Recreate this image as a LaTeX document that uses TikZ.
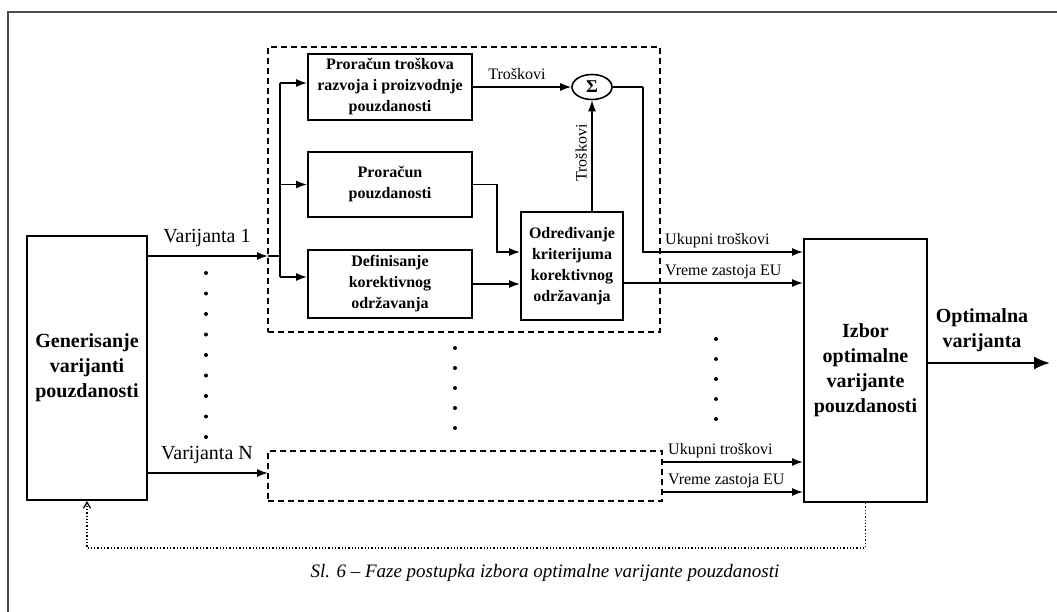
\documentclass[tikz,border=0pt]{standalone}
\usepackage{fontspec}
\setmainfont{Liberation Serif}
\usetikzlibrary{arrows.meta,shapes.geometric}
\begin{document}
\begin{tikzpicture}[x=1pt,y=-1pt,
  box/.style={draw,line width=2pt,inner sep=0pt,align=center},
  bigtxt/.style={font=\fontsize{20}{25}\selectfont\bfseries},
  smalltxt/.style={font=\fontsize{16}{21}\selectfont\bfseries},
  lbl/.style={font=\fontsize{16}{18}\selectfont,inner sep=0pt},
  vlbl/.style={font=\fontsize{20}{22}\selectfont,inner sep=0pt},
  conn/.style={line width=1.4pt},
  arr/.style={line width=1.4pt,-{Latex[length=11pt,width=8pt]}},
  grp/.style={draw,dashed,line width=1.5pt,dash pattern=on 6pt off 4pt,inner sep=0pt},
  fdot/.style={circle,fill,inner sep=0pt,minimum size=4pt},
]
\useasboundingbox (0,0) rectangle (1057,612);
% outer frame
\draw[line width=2pt,black!70] (8,612) -- (8,12) -- (1057,12);

% main boxes
\node[box,bigtxt,minimum width=120pt,minimum height=264pt] (gen) at (87,368) {Generisanje\\varijanti\\pouzdanosti};
\node[box,bigtxt,minimum width=123pt,minimum height=263pt] (izb) at (865.5,370.5) {Izbor\\optimalne\\varijante\\pouzdanosti};

% group boxes
\node[grp,minimum width=392pt,minimum height=285pt] (grp1) at (464,189.5) {};
\node[grp,minimum width=394pt,minimum height=50pt] (grpN) at (465,476) {};

% inner boxes
\node[box,smalltxt,minimum width=164pt,minimum height=66pt] (b1) at (390,87) {Proračun troškova\\razvoja i proizvodnje\\pouzdanosti};
\node[box,smalltxt,minimum width=164pt,minimum height=65pt] (b2) at (390,184.5) {Proračun\\pouzdanosti};
\node[box,smalltxt,minimum width=164pt,minimum height=68pt] (b3) at (390,284) {Definisanje\\korektivnog\\održavanja};
\node[box,smalltxt,minimum width=102pt,minimum height=108pt] (b4) at (572,266) {Određivanje\\kriterijuma\\korektivnog\\održavanja};
\node[draw,ellipse,line width=1.6pt,minimum width=40pt,minimum height=25pt,inner sep=0pt,font=\fontsize{18}{18}\selectfont\bfseries] (sig) at (592,87) {Σ};

% coordinates
\coordinate (v1) at (268,256);
\coordinate (br) at (280,256);
\coordinate (vN) at (268,473);
\coordinate (sk) at (643,87);
\coordinate (uk) at (643,252);
\coordinate (n1) at (662,462);
\coordinate (n2) at (662,492);
\coordinate (fbR) at (865.5,548);
\coordinate (fbL) at (87,548);
\coordinate (opt) at (1050,363);

% Varijanta 1 and branch
\draw[arr] (gen.east |- v1) -- (v1);
\node[vlbl,anchor=south] (lv1) at (207,247) {Varijanta 1};
\draw[conn] (v1) -- (br);
\draw[conn] (280,83) -- (280,277);
\draw[arr] (280,83) -- (b1.west |- 0,83);
\draw[arr] (280,184.5) -- (b2.west);
\draw[arr] (280,277) -- (b3.west |- 0,277);

% inner connections
\draw[arr] (b1.east) -- (sig.west);
\node[lbl,anchor=south] (lt1) at (517,80) {Troškovi};
\draw[arr] (b4.north -| sig) -- (sig.south);
\node[lbl,anchor=south,rotate=90] (lt2) at (587,153) {Troškovi};
\draw[arr] (b2.east) -- (497,184.5) -- (497,252) -- (b4.west |- 0,252);
\draw[arr] (b3.east |- 0,284) -- (b4.west |- 0,284);

% outputs of group 1
\draw[conn] (sig.east) -- (sk);
\draw[arr] (sk) -- (uk) -- (izb.west |- uk);
\node[lbl,anchor=south west] (lu1) at (665,248) {Ukupni troškovi};
\draw[arr] (b4.east |- 0,283) -- (izb.west |- 0,283);
\node[lbl,anchor=south west] (lz1) at (665,279) {Vreme zastoja EU};

% Varijanta N
\draw[arr] (gen.east |- vN) -- (vN);
\node[vlbl,anchor=south] (lvN) at (207,464) {Varijanta N};
\draw[arr] (n1) -- (izb.west |- n1);
\node[lbl,anchor=south west] (luN) at (668,458) {Ukupni troškovi};
\draw[arr] (n2) -- (izb.west |- n2);
\node[lbl,anchor=south west] (lzN) at (668,488) {Vreme zastoja EU};

% output
\draw[line width=2.2pt,-{Latex[length=16pt,width=13pt]}] (izb.east |- opt) -- (opt);
\node[bigtxt,align=center,anchor=south] (lopt) at (982,355) {Optimalna\\varijanta};

% feedback
\draw[line width=1.3pt,dotted,-{Straight Barb[length=6pt,width=7pt]}] (izb.south) -- (fbR) -- (fbL) -- (gen.south);

% ellipsis dots
\foreach \i in {0,...,8} \node[fdot] (dl\i) at (206,273+20.5*\i) {};
\foreach \i in {0,...,4} \node[fdot] (dm\i) at (455,348+20*\i) {};
\foreach \i in {0,...,4} \node[fdot] (dr\i) at (716,339+20*\i) {};

% caption
\node[font=\fontsize{19}{22}\selectfont\itshape,inner sep=0pt] (cap) at (545,573) {Sl. 6 -- Faze postupka izbora optimalne varijante pouzdanosti};
\end{tikzpicture}
\end{document}
